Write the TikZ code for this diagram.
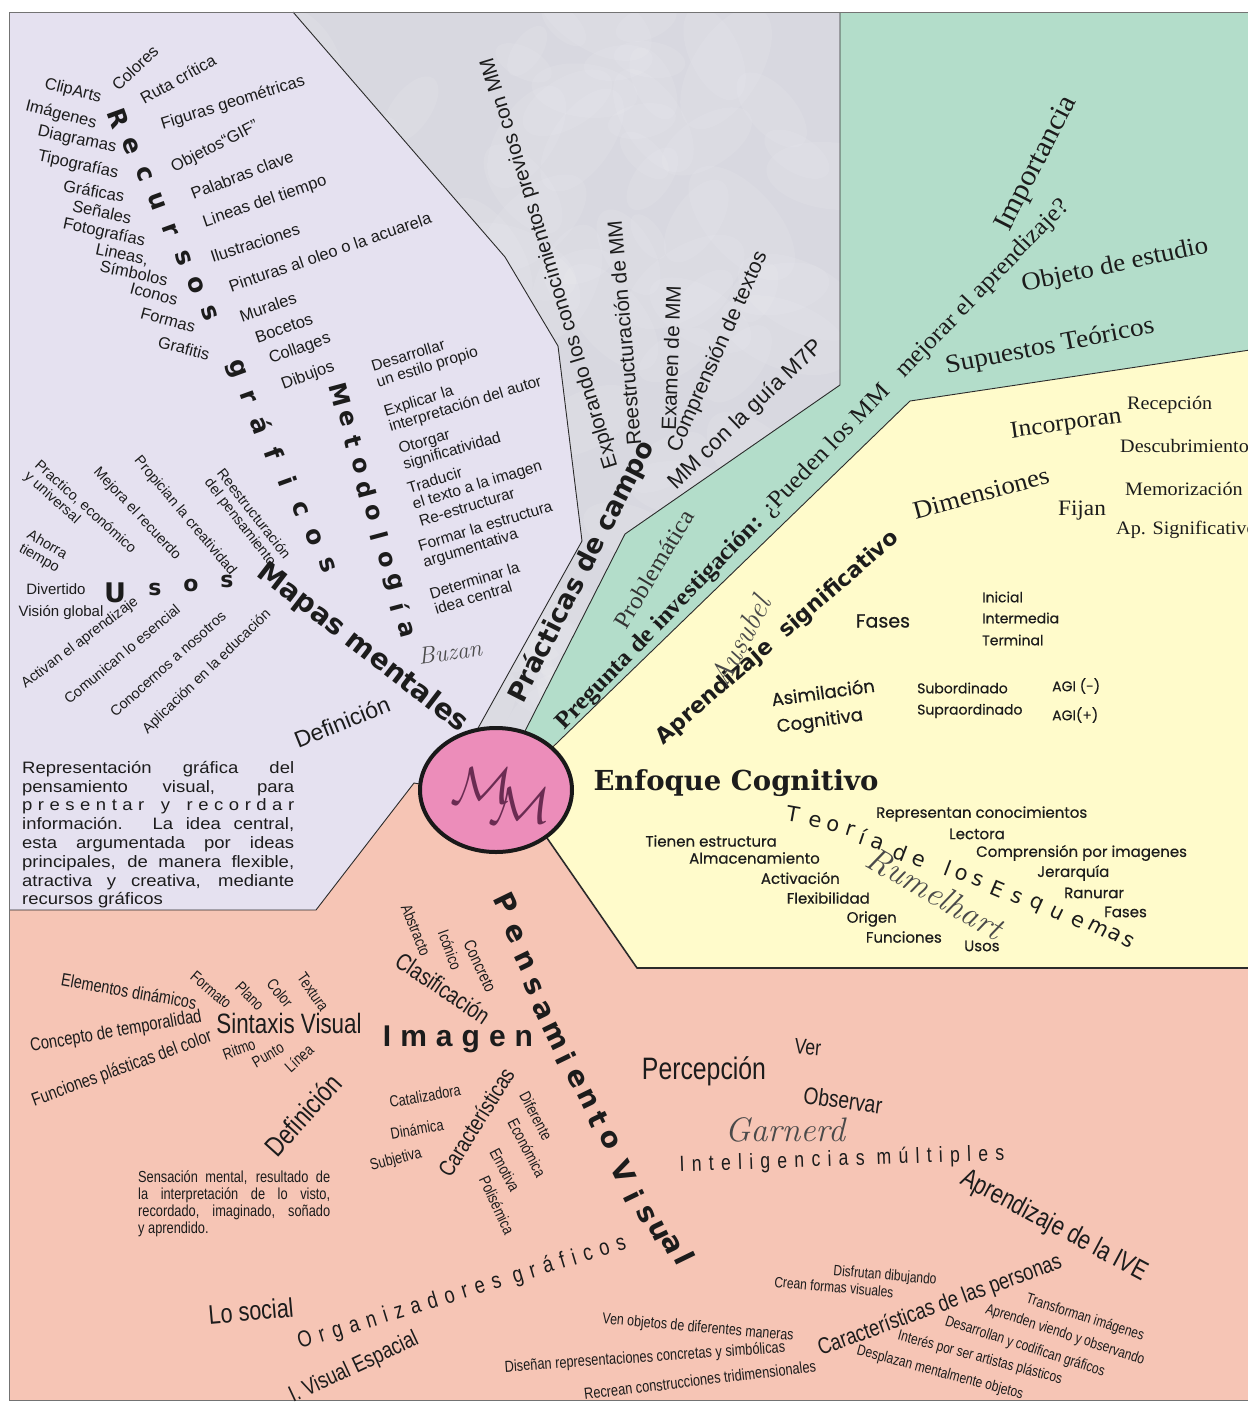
\documentclass[tikz,border=0pt]{standalone}
\usepackage{fontspec}
\usepackage{graphicx}
\usetikzlibrary{calc,shapes.geometric}

\newfontfamily\arial{Liberation Sans}
\newfontfamily\arialwide[FakeStretch=1.12]{Liberation Sans}
\newfontfamily\narrow[FakeStretch=0.8]{Liberation Sans}
\newfontfamily\heavy{DejaVu Sans}
\newfontfamily\cambria[FakeStretch=1.06]{Liberation Serif}
\newfontfamily\slab{DejaVu Serif}
\newfontfamily\gothic[FakeBold=0.5]{Poppins}

\newcommand\fz[1]{\fontsize{#1}{#1}\selectfont}
\newcommand\fitw[2]{\resizebox{#1pt}{!}{#2}}
% letters spread evenly along a straight line: options, name prefix, start, end, gaps, letters
\newcommand\spreadtext[6]{%
  \foreach \ch [count=\k from 0] in {#6}
    {\node[#1] (#2-\k) at ($(#3)!{\k/#5}!(#4)$) {\ch};}}

\definecolor{lav}{HTML}{E5E1F0}
\definecolor{marble}{HTML}{D8D8E0}
\definecolor{mint}{HTML}{B3DDCA}
\definecolor{cream}{HTML}{FFFBCB}
\definecolor{salmon}{HTML}{F6C5B5}
\definecolor{rose}{HTML}{EC8DBA}
\definecolor{edge}{HTML}{2B2B2B}
\definecolor{txt}{HTML}{1C1C1C}
\definecolor{scriptgray}{HTML}{4A4A4A}
\definecolor{mmcol}{HTML}{6A2C52}

\begin{document}
\begin{tikzpicture}[x=1pt,y=-1pt,
  lab/.style={inner sep=0pt, text=txt},
  sA/.style={lab, font=\arial\fz{#1}},
  sAL/.style 2 args={lab, align=left, font=\arial\fontsize{#1}{#2}\selectfont},
  sN/.style={lab, font=\narrow\fz{#1}},
  sC/.style={lab, font=\cambria\fz{#1}},
  sG/.style={lab, font=\gothic\fz{#1}},
  sS/.style={lab, font=\rmfamily\itshape\fz{#1}, text=scriptgray},
  sB/.style={lab, font=\heavy\bfseries\fz{#1}},
  border/.style={draw=edge, line width=0.9pt, line join=round},
]
\path[use as bounding box, fill=white] (0,0) rectangle (1248,1409);

% ---- coloured sectors ----
\fill[lav] (9,12) -- (293,12) -- (505,257) -- (558,346) -- (582,541) -- (477,730)
  -- (496,790) -- (414,783) -- (316,910) -- (9,910) -- cycle;
\fill[marble] (293,12) -- (840,12) -- (840,385) -- (625,534) -- (522,737) -- (496,790)
  -- (477,730) -- (582,541) -- (558,346) -- (505,257) -- cycle;
% soft light veins of the marbled sector
\begin{scope}
  \clip (293,12) -- (840,12) -- (840,385) -- (625,534) -- (522,737) -- (496,790)
    -- (477,730) -- (582,541) -- (558,346) -- (505,257) -- cycle;
  \pgfmathsetseed{7}
  \foreach \i in {1,...,120}{
    \pgfmathsetmacro\mx{300+540*rnd}
    \pgfmathsetmacro\my{12+720*rnd}
    \pgfmathsetmacro\ma{-70+140*rnd}
    \pgfmathsetmacro\mr{25+45*rnd}
    \fill[white, opacity=0.08, rotate around={\ma:(\mx,\my)}]
      (\mx,\my) ellipse [x radius=\mr pt, y radius=0.5*\mr pt];
  }
\end{scope}
\fill[mint] (840,12) -- (1250,12) -- (1250,350) -- (910,401) -- (560,740) -- (496,790)
  -- (522,737) -- (625,534) -- (840,385) -- cycle;
\fill[cream] (1250,350) -- (910,401) -- (560,740) -- (496,790) -- (547,838) -- (637,968)
  -- (1250,968) -- cycle;
\fill[salmon] (9,910) -- (316,910) -- (414,783) -- (496,790) -- (547,838) -- (637,968)
  -- (1250,968) -- (1250,1400) -- (9,1400) -- cycle;

% ---- sector borders ----
\draw[border] (293,12) -- (505,257) -- (558,346) -- (582,541) -- (477,730) -- (485,760);
\draw[border] (840,12) -- (840,385) -- (625,534) -- (522,737) -- (515,760);
\draw[border] (1250,350) -- (910,401) -- (560,740) -- (530,769);
\draw[border, line width=1.6pt] (540,828) -- (547,838) -- (637,968) -- (1250,968);
\draw[border] (9,910) -- (316,910) -- (414,783) -- (425,785);
\draw[draw=black!55, line width=0.8pt] (9,12) rectangle (1250,1400);

% ---- central node ----
\node[ellipse, draw=black!90, line width=4pt, fill=rose, minimum width=152pt,
  minimum height=124pt, inner sep=0pt] (mm) at (496,790) {};
\node[lab, text=mmcol] (mm-a) at (482,786) {\scalebox{5.2}{$\mathcal{M}$}};
\node[lab, text=mmcol] (mm-b) at (520,806) {\scalebox{5.2}{$\mathcal{M}$}};

% ================= Mapas mentales sector =================
\spreadtext{sB=25, rotate=-70}{rec}{118,118}{209.4,313.6}{7}{R,e,c,u,r,s,o,s}
\spreadtext{sB=25, rotate=-70}{graf}{235.6,369.4}{327,565}{7}{g,r,á,f,i,c,o,s}
\spreadtext{sB=24, rotate=-75}{met}{340,395}{406,630}{10}{M,e,t,o,d,o,l,o,g,í,a}

\node[sA=16.5, rotate=-14] (rc1) at (73,91) {ClipArts};
\node[sA=16.5, rotate=44] (rc2) at (135,68) {Colores};
\node[sA=16.5, rotate=29] (rc3) at (178,79) {Ruta crítica};
\node[sA=16.5, rotate=-14] (rc4) at (61,115) {Imágenes};
\node[sA=16.5, rotate=17] (rc5) at (233,103) {Figuras geométricas};
\node[sA=16.5, rotate=-12] (rc6) at (77,140) {Diagramas};
\node[sA=16.5, rotate=27] (rc7) at (215,147) {Objetos“GIF”};
\node[sA=16.5, rotate=-12] (rc8) at (78,165) {Tipografías};
\node[sA=16.5, rotate=21] (rc9) at (242,175) {Palabras clave};
\node[sA=16.5, rotate=-10] (rc10) at (94,191) {Gráficas};
\node[sA=16.5, rotate=19] (rc11) at (265,202) {Lineas del tiempo};
\node[sA=16.5, rotate=-12] (rc12) at (102,212) {Señales};
\node[sA=16.5, rotate=-12] (rc13) at (104,233) {Fotografías};
\node[sA=16.5, rotate=18] (rc14) at (255,243) {Ilustraciones};
\node[sA=16.5, rotate=-12] (rc15) at (122,255) {Lineas,};
\node[sA=16.5, rotate=-12] (rc16) at (134,273) {Símbolos};
\node[sA=16.5, rotate=19] (rc17) at (330,252) {Pinturas al oleo o la acuarela};
\node[sA=16.5, rotate=-15] (rc18) at (154,294) {Iconos};
\node[sA=16.5, rotate=19] (rc19) at (268,307) {Murales};
\node[sA=16.5, rotate=-15] (rc20) at (168,320) {Formas};
\node[sA=16.5, rotate=19] (rc21) at (284,328) {Bocetos};
\node[sA=16.5, rotate=-14] (rc22) at (184,348) {Grafitis};
\node[sA=16.5, rotate=20] (rc23) at (300,349) {Collages};
\node[sA=16.5, rotate=20] (rc24) at (308,376) {Dibujos};

\node[sAL={15.5}{16.5}, rotate=17] (me1) at (425,360) {Desarrollar\\un estilo propio};
\node[sAL={15.5}{16.5}, rotate=17] (me2) at (463,397) {Explicar la\\interpretación del autor};
\node[sAL={15.5}{16.5}, rotate=16] (me3) at (450,444) {Otorgar\\significatividad};
\node[sAL={15.5}{16.5}, rotate=17] (me4) at (475,478) {Traducir\\el texto a la imagen};
\node[sAL={15.5}{16.5}, rotate=17] (me5) at (467,507) {Re-estructurar};
\node[sAL={15.5}{16.5}, rotate=17] (me6) at (488,535) {Formar la estructura\\argumentativa};
\node[sAL={15.5}{16.5}, rotate=17] (me7) at (477,588) {Determinar la\\idea central};

\node[sB=27] (us-u) at (115,593) {U};
\node[sB=22] (us-s1) at (155,589) {s};
\node[sB=22] (us-o) at (191,585) {o};
\node[sB=22] (us-s2) at (227,581) {s};

\node[sAL={14.5}{15.5}, rotate=-42] (us1) at (80,513) {Practico, económico\\y universal};
\node[sA=14.5, rotate=-47] (us2) at (137,514) {Mejora el recuerdo};
\node[sA=14.5, rotate=-50] (us3) at (185,516) {Propician la creatividad};
\node[sAL={14.5}{15.5}, rotate=-52] (us4) at (247,519) {Reestructuración\\del pensamiento};
\node[sAL={14.5}{15.5}, rotate=-30] (us5) at (43,552) {Ahorra\\tiempo};
\node[sA=15] (us6) at (56,589) {Divertido};
\node[sA=15] (us7) at (61,613) {Visión global};
\node[sA=14.5, rotate=37] (us8) at (80,643) {Activan el aprendizaje};
\node[sA=14.5, rotate=40] (us9) at (122,654) {Comunican lo esencial};
\node[sA=14.5, rotate=42] (us10) at (168,664) {Conocernos a nosotros};
\node[sA=14.5, rotate=44] (us11) at (207,672) {Aplicación en la educación};

\node[lab, font=\heavy\bfseries\fz{24}, rotate=-37.6] (mapas) at (362,648) {\fitw{258}{Mapas mentales}};
\node[sS=24, rotate=8] (buzan) at (450,652) {Buzan};
\node[sA=23, rotate=22] (def1) at (342,722) {Definición};

\node[lab, anchor=north west, align=left, font=\arialwide\fontsize{16.5}{18.8}\selectfont] (defmm) at (22,761)
 {\makebox[272pt][s]{Representación gráfica del}\\
  \makebox[272pt][s]{pensamiento visual, para}\\
  \makebox[272pt][s]{p\hfil r\hfil e\hfil s\hfil e\hfil n\hfil t\hfil a\hfil r\hfil\hfil\hfil y\hfil\hfil\hfil r\hfil e\hfil c\hfil o\hfil r\hfil d\hfil a\hfil r}\\
  \makebox[272pt][s]{información. La idea central,}\\
  \makebox[272pt][s]{esta argumentada por ideas}\\
  \makebox[272pt][s]{principales, de manera flexible,}\\
  \makebox[272pt][s]{atractiva y creativa, mediante}\\
  recursos gráficos};

% ================= Prácticas de campo sector =================
\node[lab, font=\heavy\bfseries\fz{24}, rotate=63] (practicas) at (582,572) {\fitw{290}{Prácticas de campo}};
\node[lab, font=\arial\fz{18}, rotate=107] (pc1) at (550,263) {\fitw{428}{Explorando los conocimientos previos con MM}};
\node[lab, font=\arial\fz{18}, rotate=95] (pc2) at (624,333) {\fitw{225}{Reestructuración de MM}};
\node[lab, font=\arial\fz{18}, rotate=88] (pc3) at (671,358) {\fitw{145}{Examen de MM}};
\node[lab, font=\arial\fz{18}, rotate=66] (pc4) at (718,352) {\fitw{217}{Comprensión de textos}};
\node[lab, font=\arial\fz{18}, rotate=44] (pc5) at (746,415) {\fitw{205}{MM con la guía M7P}};

% ================= Pregunta de investigación sector =================
\node[lab, font=\cambria\fz{20}, text=black!80, rotate=59] (probl) at (654,569) {\fitw{133}{Problemática}};
\node[lab, font=\cambria\fz{20}, rotate=46] (preg) at (813,465)
  {\fitw{728}{\textbf{Pregunta de investigación:} ¿Pueden los MM\ \ \ mejorar el aprendizaje?}};
\node[lab, font=\cambria\fz{26}, rotate=63] (impor) at (1037,164) {\fitw{148}{Importancia}};
\node[lab, font=\cambria\fz{22}, rotate=12] (objeto) at (1115,266) {\fitw{190}{Objeto de estudio}};
\node[lab, font=\cambria\fz{22}, rotate=11] (supue) at (1050,347) {\fitw{212}{Supuestos Teóricos}};

% ================= Aprendizaje significativo sector =================
\node[lab, font=\cambria\fz{21}, rotate=8] (incorp) at (1066,425) {\fitw{112}{Incorporan}};
\node[sC=19, anchor=west] (recep) at (1127,405) {Recepción};
\node[sC=19, anchor=west] (descu) at (1120,446) {Descubrimiento};
\node[sC=19, anchor=west] (memor) at (1125,489) {Memorización};
\node[sC=19, anchor=west] (apsig) at (1116,530) {Ap. Significativo};
\node[lab, font=\cambria\fz{22}, rotate=15] (dimen) at (981,493) {\fitw{140}{Dimensiones}};
\node[sC=22] (fijan) at (1082,511) {Fijan};

\node[lab, font=\heavy\bfseries\fz{20}, rotate=41] (aprsig) at (778,638) {\fitw{313}{Aprendizaje\ \ significativo}};
\node[sS=30, rotate=62] (ausub) at (740,641) {Ausubel};

\node[sG=19] (fases1) at (883,621) {Fases};
\node[sG=14, anchor=west] (fa1) at (982,597) {Inicial};
\node[sG=14, anchor=west] (fa2) at (982,618) {Intermedia};
\node[sG=14, anchor=west] (fa3) at (982,640) {Terminal};
\node[sG=18, rotate=8] (asim1) at (823,692) {Asimilación};
\node[sG=18, rotate=8] (asim2) at (820,722) {Cognitiva};
\node[sG=14, anchor=west] (sub1) at (917,688) {Subordinado};
\node[sG=14, anchor=west] (sub2) at (917,711) {Supraordinado};
\node[sG=14, anchor=west] (agi1) at (1052,686) {AGI (-)};
\node[sG=14, anchor=west] (agi2) at (1052,715) {AGI(+)};

% ================= Enfoque cognitivo =================
\node[lab, font=\slab\bfseries\fz{24}] (enfoque) at (736,783) {\fitw{285}{Enfoque Cognitivo}};
\foreach \ch/\px/\py/\rr [count=\k] in {T/793/814/-10, e/815/821/-13, o/833/826/-15,
    r/850/830/-17, í/863/836/-19, a/877/843/-20, d/901/853/-21, e/919/860/-21,
    l/948/868/-21, o/962/874/-21, s/978/880/-22, E/998/889/-23, s/1017/897/-24,
    q/1036/905/-25, u/1057/913/-26, e/1078/921/-27, m/1098/928/-28, a/1115/935/-29,
    s/1128/941/-30}
  {\node[lab, font=\heavy\fz{21}, rotate=\rr] (teo-\k) at (\px,\py) {\ch};}
\node[sS=34, rotate=-30] (rumel) at (935,893) {Rumelhart};

\node[sG=15, anchor=west] (es1) at (876,814) {Representan conocimientos};
\node[sG=15, anchor=west] (es2) at (949,834) {Lectora};
\node[sG=15, anchor=west] (es3) at (976,853) {Comprensión por imagenes};
\node[sG=15, anchor=west] (es4) at (1037,873) {Jerarquía};
\node[sG=15, anchor=west] (es5) at (1064,893) {Ranurar};
\node[sG=15, anchor=west] (es6) at (1104,912) {Fases};
\node[sG=15, anchor=east] (es7) at (777,841) {Tienen estructura};
\node[sG=15, anchor=east] (es8) at (820,858) {Almacenamiento};
\node[sG=15, anchor=east] (es9) at (840,878) {Activación};
\node[sG=15, anchor=east] (es10) at (870,898) {Flexibilidad};
\node[sG=15, anchor=east] (es11) at (897,919) {Origen};
\node[sG=15, anchor=east] (es12) at (942,937) {Funciones};
\node[sG=15, anchor=west] (es13) at (964,946) {Usos};

% ================= Pensamiento visual sector =================
\foreach \ch/\px/\py [count=\k] in {P/506/903, e/515/934, n/525/961, s/533/987,
    a/543/1011, m/555/1036, i/566/1058, e/577/1079, n/588/1099, t/598/1119,
    o/610/1140, V/623/1172, i/634/1196, s/646/1215, u/659/1231, a/672/1245, l/685/1258}
  {\node[sB=28, rotate=-64] (pv-\k) at (\px,\py) {\ch};}

\node[lab, font=\arial\bfseries\fontsize{30}{30}\selectfont\addfontfeature{LetterSpace=30}] (imagen) at (458,1039) {Imagen};
\node[sN=24, rotate=-34] (clasif) at (443,988) {Clasificación};
\node[sN=16, rotate=-68] (cl1) at (416,930) {Abstracto};
\node[sN=16, rotate=-70] (cl2) at (450,950) {Icónico};
\node[sN=17, rotate=-65] (cl3) at (480,966) {Concreto};

\node[sN=18, rotate=-10] (sx1) at (129,991) {Elementos dinámicos};
\node[sN=16, rotate=-40] (sx2) at (211,990) {Formato};
\node[sN=16, rotate=-45] (sx3) at (250,996) {Plano};
\node[sN=16, rotate=-50] (sx4) at (280,993) {Color};
\node[sN=16, rotate=-55] (sx5) at (313,992) {Textura};
\node[sN=28] (sintax) at (289,1023) {Sintaxis Visual};
\node[sN=18.5, rotate=10] (sx6) at (116,1032) {Concepto de temporalidad};
\node[sN=18.5, rotate=20] (sx7) at (122,1069) {Funciones plásticas del color};
\node[sN=16, rotate=20] (sx8) at (239,1049) {Ritmo};
\node[sN=16, rotate=30] (sx9) at (268,1055) {Punto};
\node[sN=16, rotate=42] (sx10) at (299,1058) {Línea};

\node[sN=28, rotate=48] (def2) at (303,1115) {Definición};
\node[lab, anchor=north west, align=left, font=\narrow\fontsize{16}{17}\selectfont] (defimg) at (138,1171)
 {\makebox[192pt][s]{Sensación mental, resultado de}\\
  \makebox[192pt][s]{la interpretación de lo visto,}\\
  \makebox[192pt][s]{recordado, imaginado, soñado}\\
  y aprendido.};

\node[sN=16, rotate=10] (ca1) at (425,1096) {Catalizadora};
\node[sN=16, rotate=10] (ca2) at (417,1129) {Dinámica};
\node[sN=16, rotate=15] (ca3) at (396,1160) {Subjetiva};
\node[sN=23, rotate=58] (caract) at (476,1122) {Características};
\node[sN=16, rotate=-62] (ca4) at (536,1116) {Diferente};
\node[sN=16, rotate=-62] (ca5) at (527,1148) {Económica};
\node[sN=16, rotate=-62] (ca6) at (505,1170) {Emotiva};
\node[sN=16, rotate=-65] (ca7) at (497,1205) {Polisémica};

\node[sN=31] (percep) at (704,1071) {Percepción};
\node[sN=22, rotate=-5] (ver) at (808,1047) {Ver};
\node[sN=24, rotate=-8] (observ) at (843,1100) {Observar};
\node[sS=34] (garner) at (785,1130) {Garnerd};
\node[lab, font=\narrow\fontsize{22}{22}\selectfont\addfontfeature{LetterSpace=33}, rotate=2] (intel) at (842,1160) {Inteligencias múltiples};
\node[sN=27, rotate=-28] (apive) at (1054,1226) {Aprendizaje de la IVE};

\node[sN=15, rotate=-5] (pe1) at (885,1276) {Disfrutan dibujando};
\node[sN=15, rotate=-5] (pe2) at (834,1287) {Crean formas visuales};
\node[sN=23, rotate=20] (caract2) at (940,1306) {Características de las personas};
\node[sN=15, rotate=-18] (pe3) at (1085,1318) {Transforman imágenes};
\node[sN=15, rotate=-18] (pe4) at (1065,1335) {Aprenden viendo y observando};
\node[sN=15, rotate=-18] (pe5) at (1025,1347) {Desarrollan y codifican gráficos};
\node[sN=15, rotate=-15] (pe6) at (980,1358) {Interés por ser artistas plásticos};
\node[sN=15, rotate=-15] (pe7) at (940,1373) {Desplazan mentalmente objetos};
\node[sN=15.5, rotate=-5] (pe8) at (698,1328) {Ven objetos de diferentes maneras};
\node[sN=16, rotate=4] (pe9) at (645,1358) {Diseñan representaciones concretas y simbólicas};
\node[sN=16, rotate=7] (pe10) at (700,1380) {Recrean construcciones tridimensionales};

\node[lab, font=\narrow\fontsize{23}{23}\selectfont\addfontfeature{LetterSpace=33}, rotate=17] (organ) at (462,1293) {Organizadores gráficos};
\node[sN=27, rotate=5] (social) at (251,1311) {Lo social};
\node[sN=23, rotate=25] (ivisual) at (354,1368) {I. Visual Espacial};
\end{tikzpicture}
\end{document}
